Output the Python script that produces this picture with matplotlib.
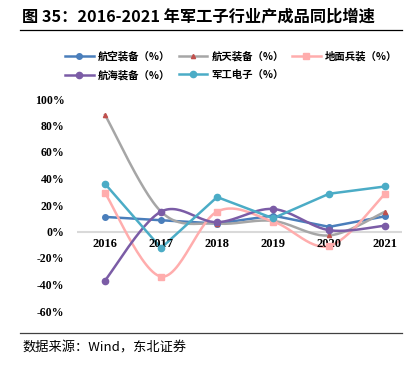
import numpy as np
import matplotlib
matplotlib.use("Agg")
from matplotlib import pyplot as plt
from matplotlib.lines import Line2D

plt.rcParams['font.family'] = ['Noto Sans CJK SC', 'DejaVu Sans']

# data (growth, %)
years = ["2016", "2017", "2018", "2019", "2020", "2021"]
aviation = [11, 8.5, 6, 12, 3.5, 11.5]
aerospace = [88, 15, 6, 8, -3, 15]
ground = [29, -34, 15, 7.5, -11, 28.5]
marine = [-37, 15, 7, 17, 1, 4.5]
electronics = [36, -12.5, 26, 10, 28.5, 34]

series_names = ["航空装备（%）", "航天装备（%）", "地面兵装（%）", "航海装备（%）", "军工电子（%）"]
y_ticks = [-60, -40, -20, 0, 20, 40, 60, 80, 100]


# excel-style smoothed line: cubic bezier with catmull-rom control points
def smooth(xs, ys, n=30):
    xs = np.asarray(xs, float)
    ys = np.asarray(ys, float)
    px = np.concatenate([[xs[0]], xs, [xs[-1]]])
    py = np.concatenate([[ys[0]], ys, [ys[-1]]])
    out_x, out_y = [], []
    t = np.linspace(0, 1, n)
    for i in range(1, len(px) - 2):
        p0 = np.array([px[i], py[i]])
        p3 = np.array([px[i + 1], py[i + 1]])
        c1 = p0 + (np.array([px[i + 1], py[i + 1]]) - np.array([px[i - 1], py[i - 1]])) / 6
        c2 = p3 - (np.array([px[i + 2], py[i + 2]]) - np.array([px[i], py[i]])) / 6
        b = ((1 - t) ** 3)[:, None] * p0 + (3 * (1 - t) ** 2 * t)[:, None] * c1 \
            + (3 * (1 - t) * t ** 2)[:, None] * c2 + (t ** 3)[:, None] * p3
        out_x.extend(b[:, 0])
        out_y.extend(b[:, 1])
    return out_x, out_y


fig = plt.figure(figsize=(4.2, 3.68), dpi=100)
ax = fig.add_axes([77 / 420, 57 / 368, 325 / 420, 212 / 368])

x = np.arange(len(years))
styles = [
    (aviation, "#4a7ebb", "o", False, 4),
    (aerospace, "#a6a6a6", "^", True, 3),
    (ground, "#ffadad", "s", True, 4.5),
    (marine, "#7b5ca6", "o", True, 4.5),
    (electronics, "#4bacc6", "o", False, 4.5),
]
handles = []
for (vals, color, marker, smoothed, ms), name in zip(styles, series_names):
    if smoothed:
        sx, sy = smooth(x, vals)
    else:
        sx, sy = x, vals
    ax.plot(sx, sy, color=color, lw=1.8, zorder=3)
    mfc = "#c0504d" if marker == "^" else color
    ax.plot(x, vals, ls="none", marker=marker, ms=ms, color=mfc, mec=mfc, zorder=4)
    handles.append(Line2D([], [], color=color, lw=1.8, marker=marker, ms=ms, mfc=mfc, mec=mfc))

ax.axhline(0, color="#d9d9d9", lw=1.5, zorder=1)
ax.set_xlim(-0.5, 5.3)
ax.set_ylim(-60, 100)
ax.set_yticks(y_ticks)
ax.set_yticklabels([f"{v}%" for v in y_ticks], fontfamily="Liberation Serif",
                   fontweight="bold", fontsize=8.5)
ax.set_xticks([])
for i, yr in enumerate(years):
    ax.text(i, -5, yr, ha="center", va="top", fontfamily="Liberation Serif",
            fontweight="bold", fontsize=9)
ax.tick_params(axis="y", length=0, pad=9)
for s in ax.spines.values():
    s.set_visible(False)

order = [0, 3, 1, 4, 2]
fig.legend([handles[i] for i in order], [series_names[i] for i in order],
           ncol=3, loc="upper left", bbox_to_anchor=(56 / 420, 1 - 42 / 368),
           frameon=False, handlelength=2.7, columnspacing=0.8,
           labelspacing=0.75, handletextpad=0.45, prop={"weight": "bold", "size": 7.5})

fig.text(22 / 420, 1 - 17 / 368, "图 35：2016-2021 年军工子行业产成品同比增速",
         fontsize=11.7, fontweight="bold", va="center", ha="left",
         family=["Noto Sans CJK SC", "DejaVu Sans"])
fig.add_artist(Line2D([20 / 420, 402 / 420], [1 - 30 / 368, 1 - 30 / 368], color="black", lw=0.9))
fig.add_artist(Line2D([20 / 420, 402 / 420], [1 - 333 / 368, 1 - 333 / 368], color="#404040", lw=0.9))
fig.text(22 / 420, 1 - 348 / 368, "数据来源：Wind，东北证券", fontsize=9.5, va="center", ha="left")

fig.savefig("out.png", dpi=100)
